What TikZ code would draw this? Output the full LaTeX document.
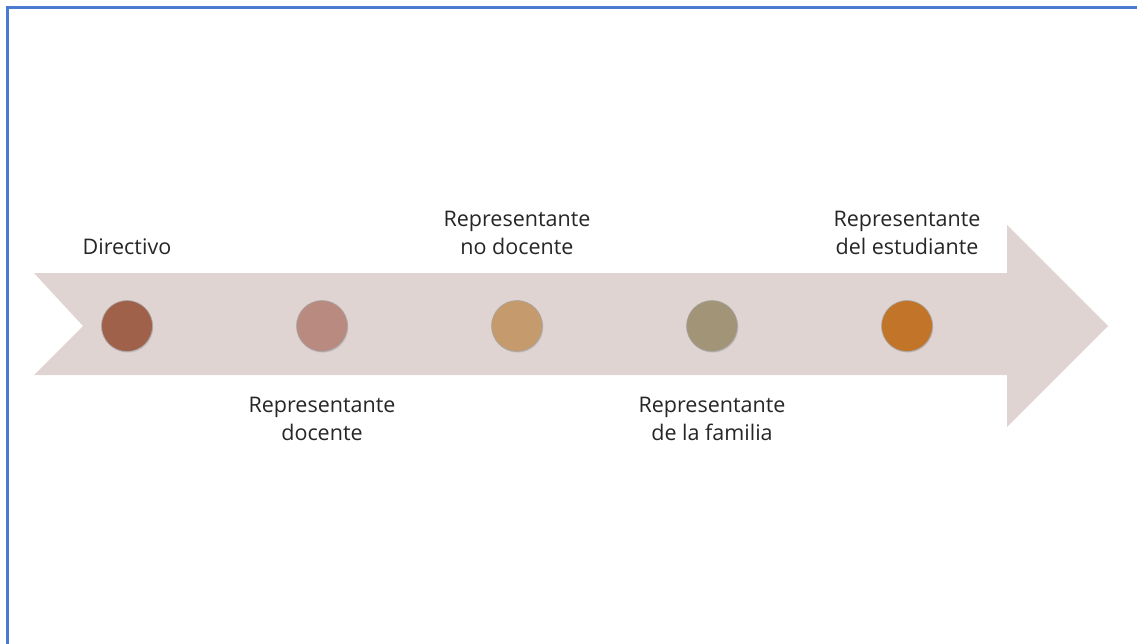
\documentclass[tikz,border=0pt]{standalone}
\usepackage{fontspec}
\setmainfont{Open Sans}
\usetikzlibrary{shadows}
\definecolor{arrowfill}{HTML}{E0D4D2}
\definecolor{frameblue}{HTML}{4A7BD0}
\definecolor{cA}{HTML}{A0614B}
\definecolor{cB}{HTML}{B98A80}
\definecolor{cC}{HTML}{C59A6C}
\definecolor{cD}{HTML}{A29577}
\definecolor{cE}{HTML}{C27429}
\definecolor{txt}{HTML}{262626}
\tikzset{
  dot/.style={circle, minimum size=51pt, inner sep=0pt, draw=black!35, line width=0.6pt,
    drop shadow={shadow xshift=0.8pt, shadow yshift=-1.2pt, opacity=0.25}},
  lbl/.style={align=center, font=\fontsize{21.5}{28}\selectfont, text=txt, inner sep=0pt}
}
\begin{document}
\begin{tikzpicture}[x=1pt,y=-1pt]
\useasboundingbox (0,0) rectangle (1137,644);
\fill[white] (0,0) rectangle (1137,644);
% frame
\draw[frameblue, line width=3pt] (7,650) -- (7,8) -- (1145,8);
% arrow
\fill[arrowfill] (34,273) -- (1007,273) -- (1007,225) -- (1108,326) -- (1007,427) -- (1007,375) -- (34,375) -- (83,326) -- cycle;
% dots
\node[dot, fill=cA] (d1) at (127,326) {};
\node[dot, fill=cB] (d2) at (322,326) {};
\node[dot, fill=cC] (d3) at (517,326) {};
\node[dot, fill=cD] (d4) at (712,326) {};
\node[dot, fill=cE] (d5) at (907,326) {};
% labels
\node[lbl] (l1) at (127,247) {Directivo};
\node[lbl] (l2) at (322,419) {Representante\\docente};
\node[lbl] (l3) at (517,233) {Representante\\no docente};
\node[lbl] (l4) at (712,419) {Representante\\de la familia};
\node[lbl] (l5) at (907,233) {Representante\\del estudiante};
\end{tikzpicture}
\end{document}
